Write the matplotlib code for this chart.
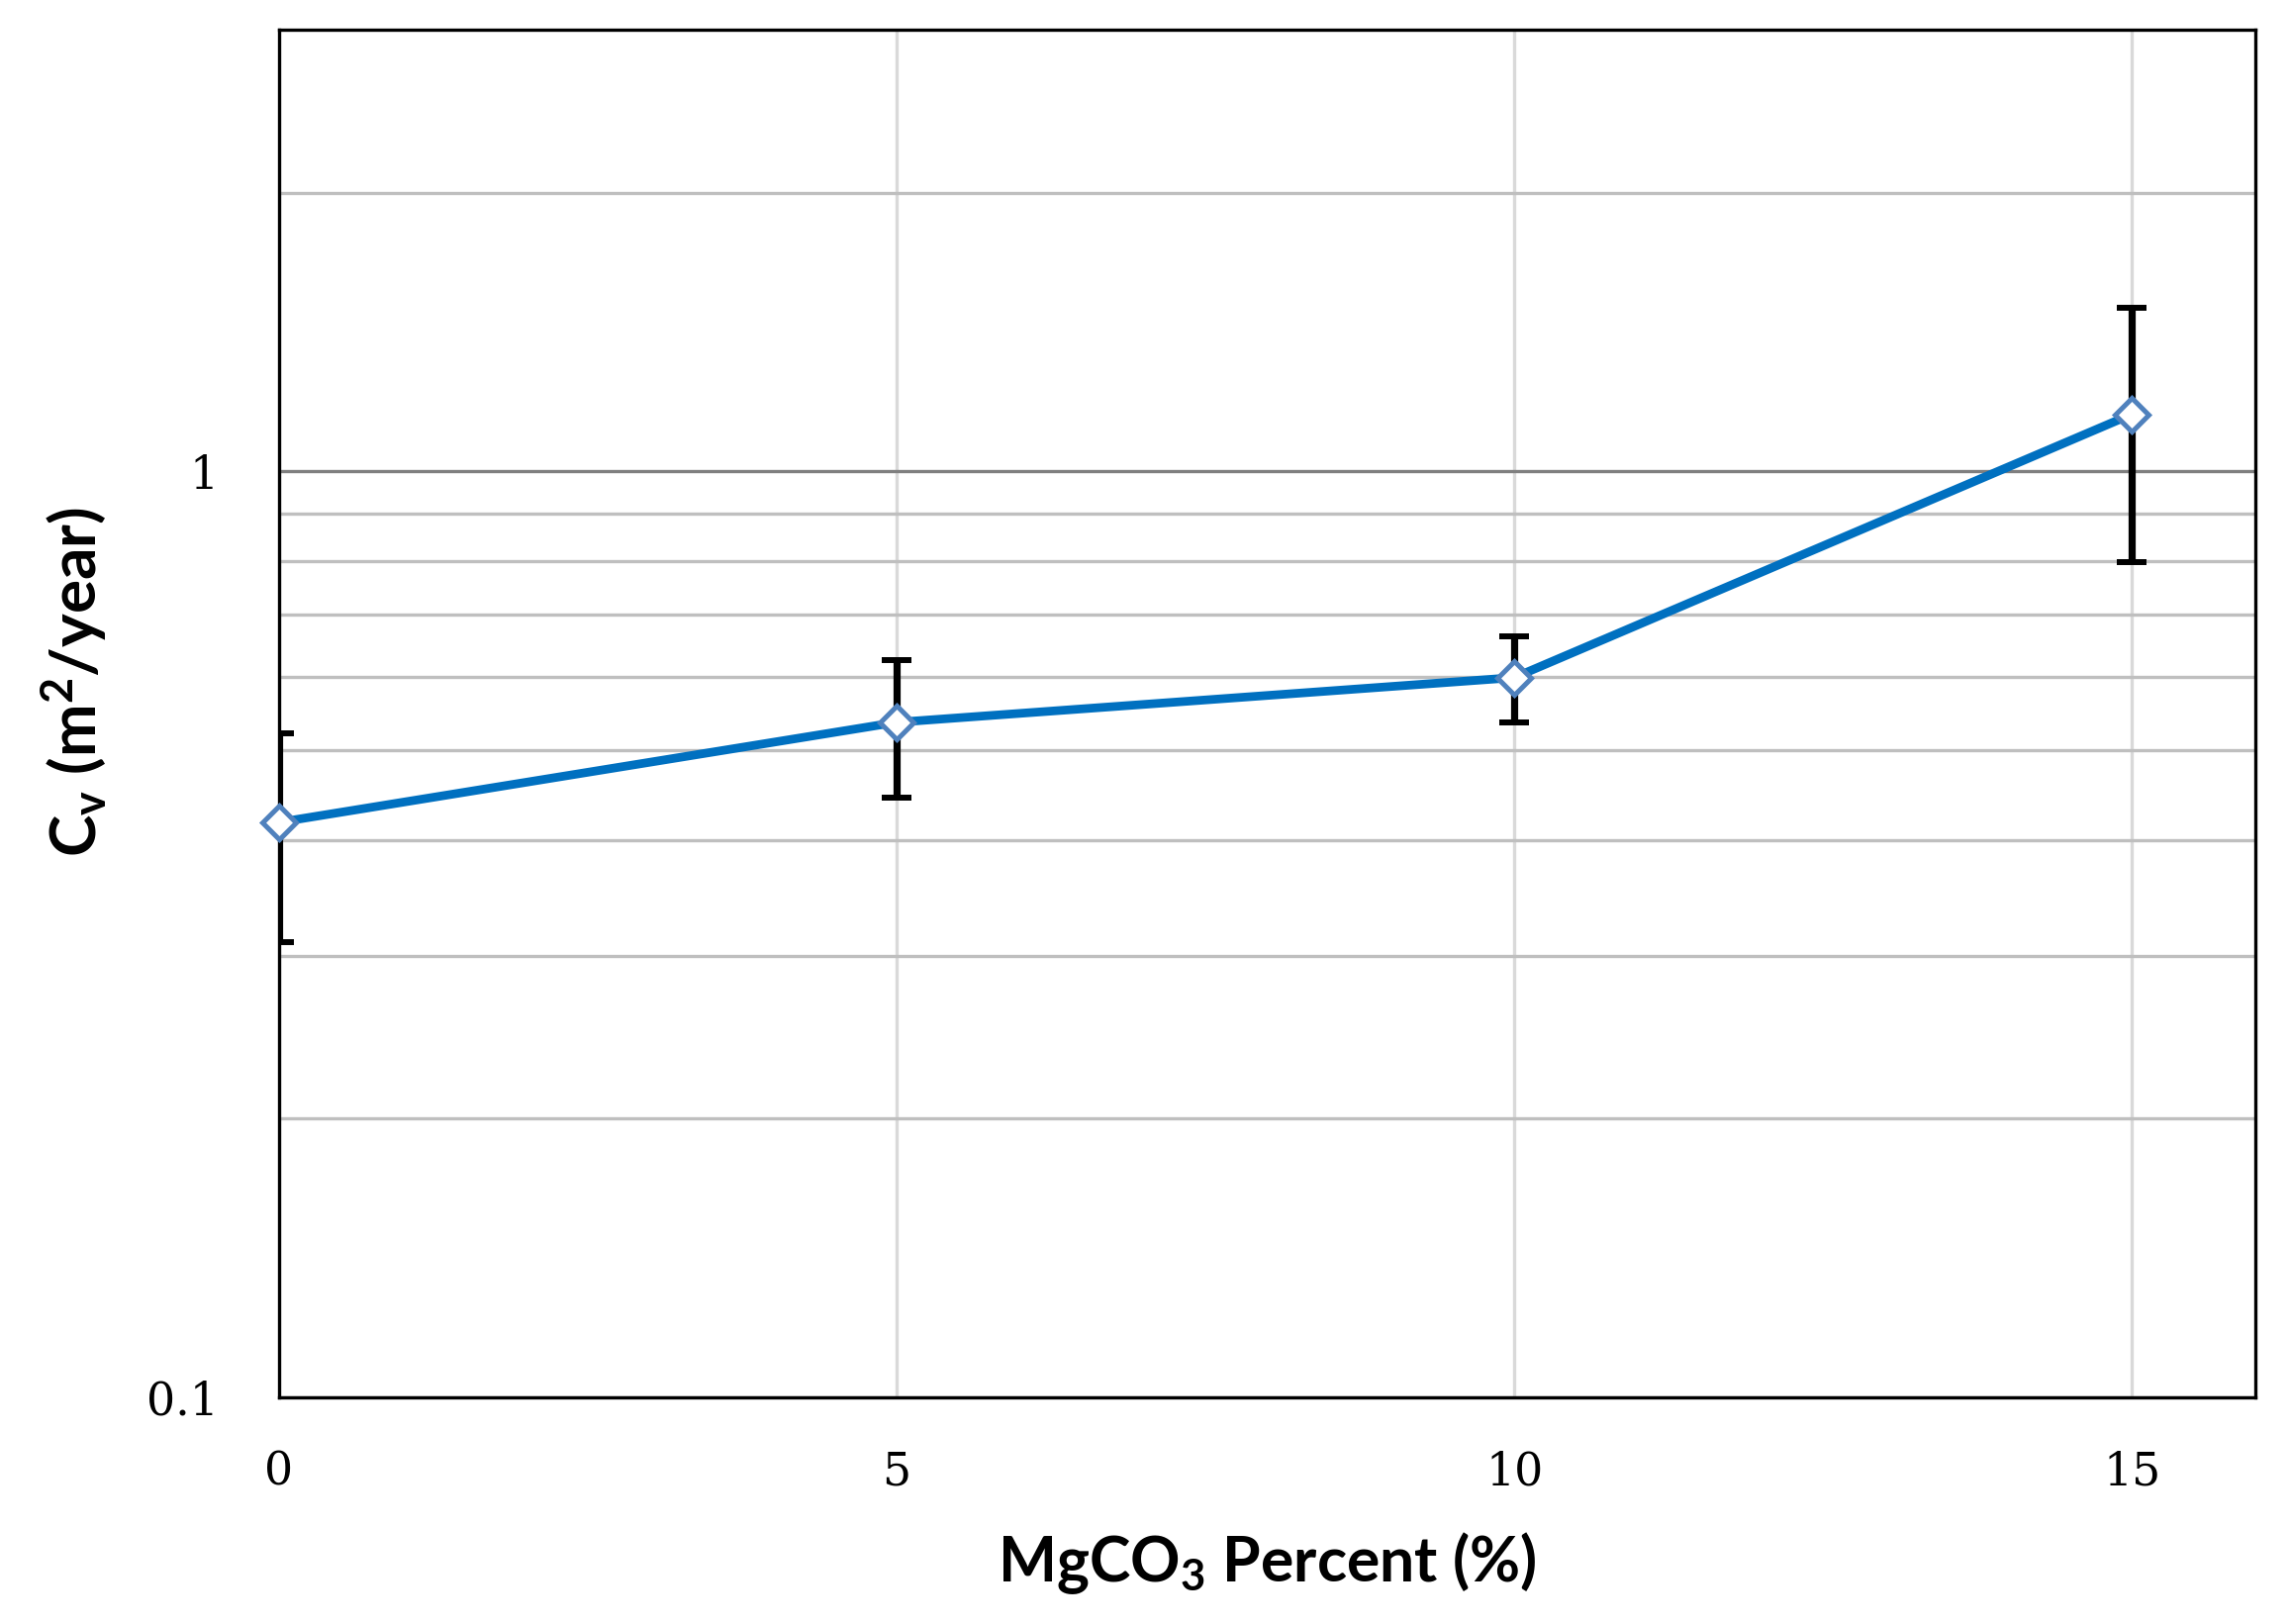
import matplotlib.pyplot as plt
from matplotlib.ticker import FixedLocator, NullFormatter, FixedFormatter

plt.rcParams["mathtext.default"] = "regular"

# data
mgco3 = [0, 5, 10, 15]
cv = [0.418, 0.536, 0.599, 1.153]
cv_upper = [0.522, 0.625, 0.663, 1.501]
cv_lower = [0.310, 0.444, 0.536, 0.799]

y_major = [0.1, 1]
y_major_labels = ["0.1", "1"]
y_minor = [0.2, 0.3, 0.4, 0.5, 0.6, 0.7, 0.8, 0.9, 2]
x_ticks = [0, 5, 10, 15]

err_low = [c - lo for c, lo in zip(cv, cv_lower)]
err_high = [hi - c for c, hi in zip(cv, cv_upper)]

fig = plt.figure(figsize=(23.13, 16.41), dpi=100)
ax = fig.add_axes([0.1219, 0.1395, 0.8634, 0.8422])

ax.set_yscale("log")
ax.set_xlim(0, 16)
ax.set_ylim(0.1, 3)

# grid
ax.yaxis.set_major_locator(FixedLocator(y_major))
ax.yaxis.set_major_formatter(FixedFormatter(y_major_labels))
ax.yaxis.set_minor_locator(FixedLocator(y_minor))
ax.yaxis.set_minor_formatter(NullFormatter())
ax.set_xticks(x_ticks)
ax.grid(True, which="major", axis="y", color="#7f7f7f", linewidth=2.4)
ax.grid(True, which="minor", axis="y", color="#bfbfbf", linewidth=2.4)
ax.grid(True, which="major", axis="x", color="#d9d9d9", linewidth=2.4)
ax.set_axisbelow(True)

ax.errorbar(mgco3, cv, yerr=[err_low, err_high], fmt="none", ecolor="black",
            elinewidth=5.2, capsize=11, capthick=4.3, zorder=3)
ax.plot(mgco3, cv, color="#0070c0", linewidth=6.3, marker="D", markersize=17,
        markerfacecolor="white", markeredgecolor="#4f81bd", markeredgewidth=3.6,
        zorder=4, clip_on=False)

for s in ax.spines.values():
    s.set_linewidth(2.4)
    s.set_color("black")

ax.tick_params(which="both", length=0)
ax.tick_params(axis="y", pad=44)
ax.tick_params(axis="x", pad=38)
for lab in ax.get_xticklabels() + ax.get_yticklabels():
    lab.set_fontfamily("DejaVu Serif")
    lab.set_fontsize(33)

ax.set_xlabel("MgCO$_3$ Percent (%)", fontsize=45, fontweight="bold",
              family="Lato", labelpad=26)
ax.set_ylabel("C$_v$ (m$^2$/year)", fontsize=46, fontweight="bold",
              family="Lato")
ax.yaxis.set_label_coords(-0.086, 0.523)

fig.savefig("out.png", dpi=100)
